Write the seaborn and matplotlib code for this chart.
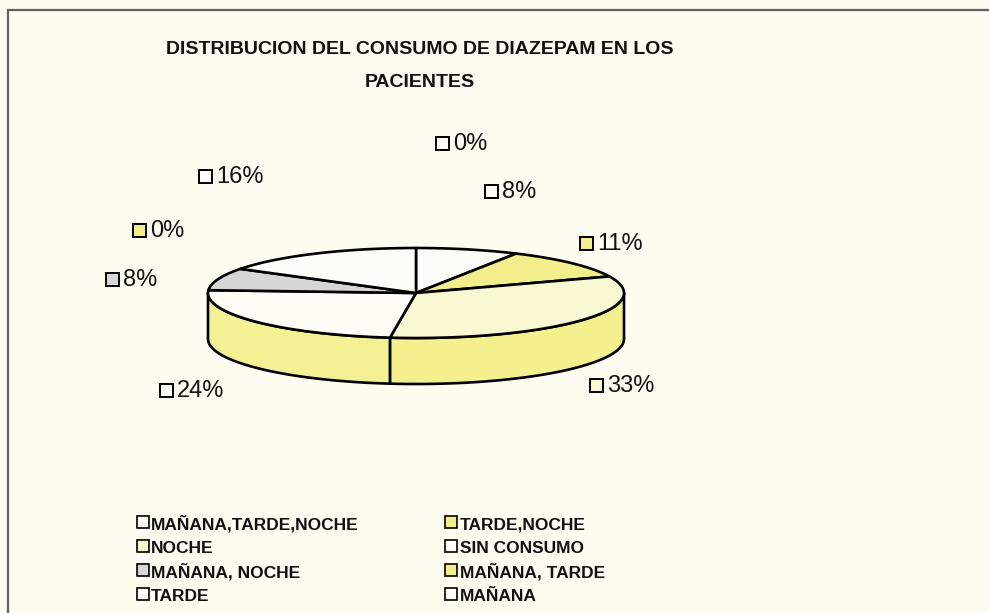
import numpy as np
import matplotlib
matplotlib.use("Agg")
import matplotlib.pyplot as plt
from matplotlib.patches import Polygon, Rectangle
from matplotlib.lines import Line2D
import seaborn as sns

# ---------------- data ----------------
categories = ["MAÑANA,TARDE,NOCHE", "TARDE,NOCHE", "NOCHE", "SIN CONSUMO",
              "MAÑANA, NOCHE", "MAÑANA, TARDE", "TARDE", "MAÑANA"]
percent = [8, 11, 33, 24, 8, 0, 16, 0]
title_text = "DISTRIBUCION DEL CONSUMO DE DIAZEPAM EN LOS\nPACIENTES"

# ---------------- style ----------------
sns.set_theme(style="white")
plt.rcParams['font.family'] = ['Liberation Sans', 'DejaVu Sans']

bg = '#fcfcf0'
face_colors = ['#fdfdf8', '#f2ee8c', '#f9f8d2', '#fdfdf6',
               '#d6d6d4', '#f2ee8c', '#fdfdf8', '#fdfdf8']
side_colors = ['#e8e8e0', '#e6e07a', '#f4f08e', '#f4f094',
               '#bdbdbd', '#e6e07a', '#e8e8e0', '#e8e8e0']

# label anchor (box left, centre y) in pixels
label_pos = [(485, 191), (580, 243), (590, 385), (160, 390),
             (106, 279), (133, 230), (199, 176), (436, 143)]

W, H = 989, 613
fig = plt.figure(figsize=(W / 100, H / 100), dpi=100, facecolor=bg)
ax = fig.add_axes([0, 0, 1, 1])
ax.set_xlim(0, W)
ax.set_ylim(H, 0)
ax.axis('off')
ax.set_facecolor(bg)

# outer border
ax.plot([8, 8, W], [H, 10, 10], color='#606060', lw=1.6, solid_joinstyle='miter')

# pie geometry
cx, cy, rx, ry, depth = 416, 293, 208, 45, 46

def pt(t, dy=0.0):
    r = np.radians(t)
    return cx + rx * np.sin(r), cy - ry * np.cos(r) + dy

vals = np.array(percent, dtype=float)
angles = np.concatenate([[0], np.cumsum(vals / vals.sum() * 360.0)])

# side walls (front half only, 90..270 deg clockwise from top)
for i in range(len(vals)):
    a, b = angles[i], angles[i + 1]
    lo, hi = max(a, 90), min(b, 270)
    if hi <= lo:
        continue
    ts = np.linspace(lo, hi, 80)
    tx, ty = pt(ts)
    bx, by = pt(ts, depth)
    poly = np.column_stack([np.concatenate([tx, bx[::-1]]),
                            np.concatenate([ty, by[::-1]])])
    ax.add_patch(Polygon(poly, closed=True, facecolor=side_colors[i],
                         edgecolor='black', lw=1.9, joinstyle='round'))

# top faces
for i in range(len(vals)):
    a, b = angles[i], angles[i + 1]
    if b - a <= 0:
        continue
    ts = np.linspace(a, b, 100)
    tx, ty = pt(ts)
    poly = np.column_stack([np.concatenate([[cx], tx]),
                            np.concatenate([[cy], ty])])
    ax.add_patch(Polygon(poly, closed=True, facecolor=face_colors[i],
                         edgecolor='black', lw=1.9, joinstyle='round'))

# data labels
for i, (lx, ly) in enumerate(label_pos):
    ax.add_patch(Rectangle((lx, ly - 6.5), 13, 13, facecolor=face_colors[i],
                           edgecolor='black', lw=1.4))
    ax.text(lx + 17, ly + 1, f"{percent[i]:.0f}%", fontsize=17,
            ha='left', va='center', color='#111111')

# title
ax.text(420, 66, title_text, ha='center', va='center', fontsize=14,
        fontweight='bold', linespacing=2.2, color='#111111')

# legend (row-wise order in two columns)
order = [0, 2, 4, 6, 1, 3, 5, 7]
handles = [Line2D([], [], linestyle='none', marker='s', markersize=8.5,
                  markerfacecolor=face_colors[i], markeredgecolor='black',
                  markeredgewidth=1.2) for i in order]
labels = [categories[i] for i in order]
leg = ax.legend(handles, labels, ncol=2, loc='upper left',
                bbox_to_anchor=(136 / W, 1 - 514 / H),
                bbox_transform=fig.transFigure, frameon=False,
                prop=dict(weight='bold', size=12.5),
                handlelength=0.75, handleheight=1.25, handletextpad=0.12,
                labelspacing=0.33, columnspacing=4.95,
                borderaxespad=0, borderpad=0)
for t in leg.get_texts():
    t.set_color('#111111')

fig.savefig('out.png', dpi=100, facecolor=bg)
